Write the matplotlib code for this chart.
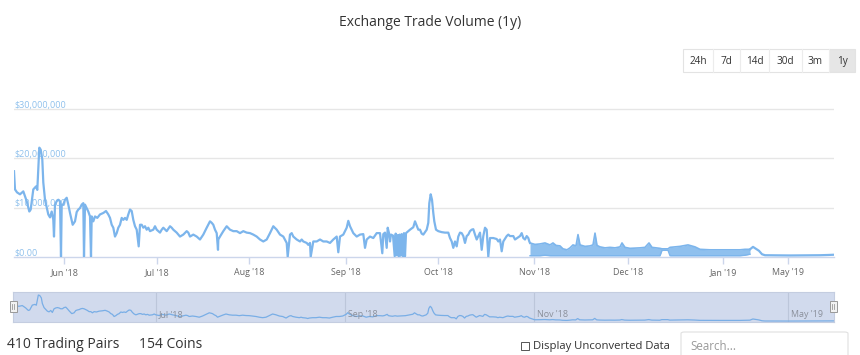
import numpy as np
import matplotlib
matplotlib.use("Agg")
import matplotlib.pyplot as plt
from matplotlib.patches import Rectangle, FancyBboxPatch
from matplotlib.lines import Line2D

plt.rcParams['font.family'] = ['Open Sans', 'DejaVu Sans']

# ---------------- data (ordinal x position, volume in $ millions) ----------------
main_t = [14, 15, 17, 20, 23.3, 26.7, 29.3, 30.7, 33.3, 36, 37.3, 39.3, 40.7, 42.3, 43.3, 45, 46.7, 48.3,
          50, 51.7, 53.3, 55, 56.7, 58.3, 60, 61.7, 63.3, 65, 66.7, 68.3, 70, 72.7, 75, 76.7, 78.3, 80,
          81.7, 83.3, 85, 86.7, 88.3, 90, 91.7, 93.3, 95, 97.3, 100, 103.3, 106, 108.3, 110, 111.7, 113.3,
          115, 116.7, 118.3, 120, 121.7, 123.3, 125, 126.7, 128.3, 130, 131.7, 133.3, 135, 136.7, 140,
          141.7, 143.3, 145, 146.7, 148.3, 150, 153.3, 155, 156.7, 160, 161.7, 163.3, 166.7, 170, 171.7,
          173.3, 176.7, 180, 183.3, 186.7, 188.3, 190, 193.3, 196.7, 200, 203.3, 206.7, 210, 211.7, 213.3,
          215, 216.7, 218.3, 220, 223.3, 226.7, 230, 233.3, 236.7, 240, 243.3, 246.7, 250, 253.3, 256.7,
          260, 263.3, 266.7, 270, 273.3, 276.7, 280, 283.3, 286.7, 290, 291.7, 293.3, 296.7, 300, 301.7,
          303.3, 306.7, 308.3, 310, 313.3, 316.7, 320, 323.3, 326.7, 330, 333.3, 336.7, 340, 343.3, 346.7,
          348.3, 350, 353.3, 356.7, 360, 363.3, 366.7, 370, 373.3, 376.7, 380, 383.3, 385, 387.7, 389, 391,
          393, 395.7, 397.7, 399.7, 401.7, 404, 406, 410, 413.3, 415, 416.7, 418.3, 420, 421.7, 423.3,
          426.7, 428.3, 429.3, 430.7, 432, 433.3, 434.3, 436, 438.3, 441.7, 445, 448.3, 450, 451.7, 455,
          456.7, 458.3, 460, 461.7, 463.3, 465, 466.7, 468.3, 470, 471.7, 473.3, 475, 476.7, 478.3, 480,
          483.3, 485, 486.7, 490, 493.3, 496.7, 498.3, 500, 503.3, 506.7, 508.3, 510, 513.3, 515, 520,
          521.7, 523.3, 525, 526.7, 528.3, 529.3, 530]
main_v = [17.4, 13.7, 13.1, 12.7, 13.3, 11.3, 9.2, 9.6, 13.7, 14.3, 13.6, 22.2, 21.8, 19.8, 15.1, 11.6, 10.0, 8.6,
          8.0, 9.2, 7.5, 10.6, 11.3, 11.6, 11.3, 10.6, 10.6, 11.6, 12.0, 10.6, 8.9, 6.5, 7.2, 9.1, 9.6, 9.9,
          10.6, 10.9, 10.6, 9.9, 9.2, 8.2, 8.2, 7.2, 8.2, 7.9, 8.6, 8.9, 9.3, 8.6, 7.9, 6.5, 5.9,
          4.1, 4.8, 5.9, 6.5, 7.9, 7.5, 7.9, 7.5, 8.6, 9.6, 9.3, 7.5, 6.2, 5.5, 6.5,
          6.5, 5.9, 6.2, 5.5, 5.9, 5.2, 5.5, 6.2, 5.5, 4.9, 5.5, 5.9, 5.2, 6.2, 5.9,
          5.5, 4.9, 4.1, 4.5, 5.2, 4.9, 4.1, 4.5, 4.1, 3.5, 4.5, 5.9, 7.2, 6.9, 6.5,
          5.5, 4.8, 3.5, 4.1, 5.2, 6.2, 5.5, 5.2, 5.2, 4.8, 5.2, 4.9, 4.8, 4.5, 4.1,
          3.5, 3.1, 3.5, 4.8, 6.2, 5.5, 4.5, 4.1, 2.8, 4.5, 4.8, 4.1, 3.5, 3.1, 3.5,
          3.1, 2.8, 2.4, 2.8, 3.1, 3.1, 3.5, 3.1, 3.1, 2.8, 3.5, 4.1, 4.1, 4.5, 5.9,
          7.3, 6.2, 4.8, 4.1, 4.5, 4.6, 3.5, 4.1, 3.8, 4.8, 4.8, 4.6, 4.9, 5.9, 4.8, 4.5,
          4.3, 4.7, 4.4, 4.5, 4.6, 4.8, 4.8, 5.5, 6.0, 7.2, 6.3, 5.5, 5.5, 4.7, 4.5,
          5.5, 6.9, 10.9, 12.7, 11.6, 8.9, 7.2, 5.5, 5.2, 5.0, 4.9, 4.9, 3.8, 3.1, 3.1,
          2.1, 4.1, 4.9, 4.8, 4.2, 2.8, 4.2, 4.5, 5.2, 5.5, 5.6, 4.5, 3.5, 4.2, 4.9,
          4.2, 5.9, 5.5, 3.8, 3.8, 3.6, 3.1, 3.5, 3.1, 4.2, 4.5, 4.2, 4.2, 3.5, 4.2,
          4.8, 3.8, 3.5, 4.2, 3.8, 3.1, 2.8]

spike_t = [54, 61, 84, 91, 138.7, 218, 287.7, 310.7, 338.3, 365, 382.3, 386.7, 390, 394.7, 396.7,
           398.7, 400.7, 403, 405, 453.3, 481.7, 488.3, 501.7]
spike_v = [4.1, 0, 0, 0, 2.1, 1.4, 0, 0, 0.9, 1.8, 0.7, 1.8, 3.1, 0.1, 0.3,
           0.1, 0.2, 0.1, 0.1, 1.8, 1.4, 0, 1.1]

# dense Nov'18 - Jan'19 section: upper / lower envelope of the oscillating series
band_t = [530, 535, 540, 545, 550, 553, 556, 560, 563, 567, 570, 573, 576, 578, 580, 585, 590, 593, 595,
          597, 600, 605, 610, 615, 620, 622, 625, 630, 640, 645, 649, 652, 660, 662, 668, 670, 680, 688,
          695, 700, 710, 720, 730, 740, 745, 750]
band_hi = [2.8, 2.5, 2.6, 2.8, 2.4, 2.8, 2.3, 2.2, 1.6, 1.4, 1.8, 2.4, 2.2, 4.5, 2.4, 2.1, 2.2, 2.4, 4.8,
           2.3, 2.0, 1.8, 1.9, 1.8, 2.0, 2.8, 1.9, 1.7, 1.8, 1.9, 2.8, 1.9, 1.7, 1.6, 1.6, 1.9, 2.1, 2.4,
           2.0, 1.5, 1.4, 1.4, 1.4, 1.4, 1.5, 1.5]
band_lo = [0.2, 0.2, 0.2, 0.3, 0.2, 0.2, 0.2, 0.2, 0.2, 0.2, 0.2, 0.2, 0.2, 0.2, 0.2, 0.2, 0.2, 0.2, 0.2,
           0.2, 0.2, 0.2, 0.2, 0.2, 0.2, 0.2, 0.2, 0.2, 0.2, 0.2, 0.2, 0.2, 0.2, 1.3, 1.3, 0.2, 0.2, 0.2,
           0.2, 0.2, 0.2, 0.2, 0.2, 0.2, 0.3, 0.5]

tail_t = [750, 753, 756, 759, 762, 765, 790, 820, 828, 834]
tail_v = [1.5, 2.0, 1.6, 1.2, 0.5, 0.3, 0.25, 0.3, 0.35, 0.4]

tick_t = [64.3, 156.7, 249.3, 345.7, 438.3, 534.3, 627.7, 723, 788.3]
tick_labels = ["Jun '18", "Jul '18", "Aug '18", "Sep '18", "Oct '18", "Nov '18", "Dec '18", "Jan '19", "May '19"]
nav_tick_t = [156.7, 345.7, 534.3, 788.3]
nav_tick_labels = ["Jul '18", "Sep '18", "Nov '18", "May '19"]

y_ticks = [0, 10, 20, 30]
y_labels = ["$0.00", "$10,000,000", "$20,000,000", "$30,000,000"]

ranges = ["24h", "7d", "14d", "30d", "3m", "1y"]
selected_range = "1y"

pairs_text = "410 Trading Pairs"
coins_text = "154 Coins"

# ---------------- figure ----------------
W, H = 860, 355
fig = plt.figure(figsize=(W / 100, H / 100), dpi=100)
fig.patch.set_facecolor('white')

def fx(x):
    return x / W

def fy(y):
    return 1 - y / H

LINE = '#7cb5ec'

# main axes
x0, x1 = 14, 834
y_base, y_top = 256.7, 99.5
ax = fig.add_axes([fx(x0), fy(y_base), (x1 - x0) / W, (y_base - y_top) / H])
ax.set_xlim(x0, x1)
ax.set_ylim(0, 32)
for s in ['top', 'right', 'left']:
    ax.spines[s].set_visible(False)
ax.spines['bottom'].set_color('#ccd6eb')
ax.spines['bottom'].set_linewidth(1.0)
ax.set_yticks([])
for v in y_ticks[1:]:
    ax.axhline(v, color='#e6e6e6', lw=1.0, zorder=0)
for v, lab in zip(y_ticks, y_labels):
    ax.annotate(lab, xy=(0, v), xycoords=('axes fraction', 'data'), xytext=(0, 1.2),
                textcoords='offset points', ha='left', va='baseline', fontsize=6.5,
                color='#8ec0ec', zorder=1)

ax.set_xticks(tick_t)
ax.set_xticklabels(tick_labels, fontsize=6.4, color='#666666')
ax.tick_params(axis='x', length=5, width=1, color='#ccd6eb', pad=3)

# merge main series with its sharp drop points
all_t = np.array(main_t + spike_t, dtype=float)
all_v = np.array(main_v + spike_v, dtype=float)
order = np.argsort(all_t, kind='stable')
ax.plot(all_t[order], all_v[order], color=LINE, lw=1.6, zorder=3, solid_joinstyle='round')
ax.fill_between(band_t, band_lo, band_hi, color=LINE, lw=0, alpha=0.85, zorder=3)
ax.plot(band_t, band_hi, color=LINE, lw=1.2, zorder=3)
ax.plot(band_t, band_lo, color=LINE, lw=1.0, zorder=3)
ax.plot(tail_t, tail_v, color=LINE, lw=1.6, zorder=3)

# title
fig.text(fx(430), fy(23), "Exchange Trade Volume (1y)", ha='center', va='center',
         fontsize=10, color='#333333')

# range selector buttons
bx = [682.7, 713.3, 740, 769.3, 801.7, 829.3, 855]
by0, by1 = 49.3, 71.7
for i, lab in enumerate(ranges):
    xa, xb = bx[i], bx[i + 1]
    if lab == selected_range:
        fig.add_artist(Rectangle((fx(xa), fy(by1)), (xb - xa) / W, (by1 - by0) / H,
                                 transform=fig.transFigure, facecolor='#e6e6e6', edgecolor='none'))
    fig.text(fx((xa + xb) / 2), fy(61.5), lab, ha='center', va='center', fontsize=7.2, color='#333333')
fig.add_artist(Rectangle((fx(bx[0]), fy(by1)), (bx[-1] - bx[0]) / W, (by1 - by0) / H,
                         transform=fig.transFigure, facecolor='none', edgecolor='#e3e3e3', lw=0.8))
for xs in bx[1:-1]:
    fig.add_artist(Line2D([fx(xs), fx(xs)], [fy(by1), fy(by0)], transform=fig.transFigure,
                          color='#ececec', lw=0.8))

# navigator
nx0, nx1 = 13, 834
ny0, ny1 = 292.3, 322.3
nav = fig.add_axes([fx(nx0), fy(ny1), (nx1 - nx0) / W, (ny1 - ny0) / H])
nav.set_facecolor('#d1daed')
nav.set_xlim(x0, x1)
nav.set_ylim(-0.8, 24.5)
nav.set_xticks([])
nav.set_yticks([])
for s in nav.spines.values():
    s.set_color('#c4cde0')
    s.set_linewidth(0.8)
for t, lab in zip(nav_tick_t, nav_tick_labels):
    nav.axvline(t, color='#bcc6da', lw=0.8, zorder=1)
    nav.annotate(lab, xy=(t, 0), xycoords=('data', 'axes fraction'), xytext=(2, 2.2),
                 textcoords='offset points', ha='left', va='bottom', fontsize=6.4, color='#8a8f9a')
band_mid = [(a + b) / 2 for a, b in zip(band_hi, band_lo)]
nav_t = list(main_t) + band_t[1:] + tail_t[1:]
nav_v = list(main_v) + band_mid[1:] + tail_v[1:]
nav.plot(nav_t, nav_v, color='#79aee6', lw=0.9, zorder=2)

# navigator handles
for hx in (13, 833):
    fig.add_artist(Rectangle((fx(hx - 3), fy(311.7)), 6.5 / W, 11 / H, transform=fig.transFigure,
                             facecolor='#f2f2f2', edgecolor='#999999', lw=0.7))
    for dx in (-1, 1):
        fig.add_artist(Line2D([fx(hx + dx * 0.9 + 0.25)] * 2, [fy(309), fy(303.5)],
                              transform=fig.transFigure, color='#999999', lw=0.6))

# footer
fig.text(fx(6.7), fy(345), pairs_text, ha='left', va='center', fontsize=10, color='#333333')
fig.text(fx(139), fy(345), coins_text, ha='left', va='center', fontsize=10, color='#333333')
fig.add_artist(Rectangle((fx(520.7), fy(350.3)), 8.6 / W, 8.6 / H, transform=fig.transFigure,
                         facecolor='white', edgecolor='#555555', lw=0.7))
fig.text(fx(533), fy(346), "Display Unconverted Data", ha='left', va='center', fontsize=8.1,
         color='#333333')
fig.add_artist(FancyBboxPatch((fx(681), fy(358)), 167 / W, 26 / H, transform=fig.transFigure,
                              boxstyle='round,pad=0,rounding_size=0.004', facecolor='white',
                              edgecolor='#e0e0e0', lw=0.8))
fig.text(fx(690), fy(346), "Search...", ha='left', va='center', fontsize=8.3, color='#9a9a9a')

fig.savefig("out.png", dpi=100)
